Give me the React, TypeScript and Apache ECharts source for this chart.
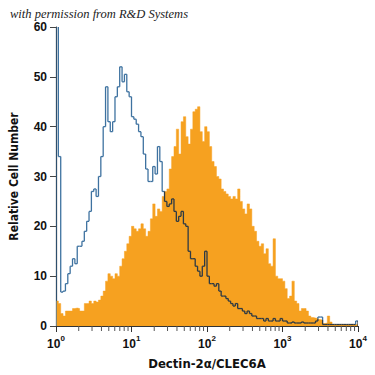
import React, { useEffect, useRef } from "react";
import * as echarts from "echarts";

// Histogram channels: 128 bins spanning 10^0 .. 10^4 (log10 units 0..4)
const DECADES = [0, 1, 2, 3, 4];
const BIN_COUNT = 128;

// Orange (filled) histogram – Dectin-2α/CLEC6A stained cells
const STAINED_COUNTS = [
  5, 4.5, 2.5, 2, 3, 3, 3, 3.5, 3.6, 3.5, 3, 3, 4.5, 4.5, 5, 4.5,
  5, 4.8, 5.2, 6, 7, 9, 10.5, 10, 9.5, 10.5, 10, 12, 13.5, 15, 16.5, 18,
  20, 19.5, 19, 19.5, 20.5, 19.5, 18, 19, 21.5, 24.5, 22, 23.5, 23, 26, 27, 27.5,
  31.5, 34, 36, 39.5, 34.5, 41, 42, 38, 36.5, 39.5, 43, 43.5, 44, 39, 37, 40,
  39, 36, 33, 32, 30, 29.5, 27.5, 27, 26.5, 26, 25.5, 26, 25.5, 27.5, 25, 23.5,
  22.5, 24.5, 23.5, 20, 19, 17, 16, 16.5, 14.5, 15.5, 12.5, 12, 17.5, 10, 9.5, 9.5,
  9, 7.5, 5.5, 6, 9, 5, 4.5, 3, 3.5, 3.5, 3, 2, 1.7, 1.6, 1.5, 1.3,
  1.2, 0.5, 0.6, 2, 0.8, 0.3, 0.3, 0.3, 0.3, 0.3, 0.3, 0.3, 0.3, 0.3, 0.3, 0.3,
];

// Blue (open) histogram – isotype control
const CONTROL_COUNTS = [
  62, 34, 6.8, 7, 8.5, 10.5, 12, 13.5, 12.5, 16, 16, 17, 19, 21, 23, 27,
  27.5, 26, 30, 34, 40, 48, 41, 39, 41, 46, 48, 52, 49, 50.5, 47, 46,
  42, 41.5, 40.5, 39, 38, 34.5, 31.5, 29, 29, 32, 30.5, 36, 33, 27, 25, 24,
  24.5, 25.5, 23, 21, 22, 23, 20.5, 20, 15, 13.5, 13.5, 12, 11, 10, 12, 15,
  10, 8.5, 8.5, 8, 8.5, 7, 6, 6, 5.5, 5, 4.5, 4, 4.5, 3.5, 3.5, 3,
  2.5, 3, 2.5, 2, 2, 1.5, 1.5, 1.5, 1, 1.5, 1, 1, 1.5, 1, 1, 1.5,
  1, 1, 0.6, 0.6, 0.8, 0.6, 0.6, 0.6, 0.8, 0.6, 0.6, 0.6, 0.6, 0.6, 1, 1.8,
  1.8, 0.3, 0.3, 0.3, 0.3, 0.3, 0.3, 0.3, 0.3, 0.3, 0.3, 0.3, 0.3, 0.3, 0.3, 1,
];

const Y_TICKS = [0, 10, 20, 30, 40, 50, 60];
const MINOR_MULTIPLIERS = [2, 3, 4, 5, 6, 7, 8, 9];

const ORANGE = "#F6A120";
const BLUE = "#3E72A0";
const DARK_LINE = "#2E3A44";
const AXIS_FONT = "'DejaVu Sans Condensed', 'Liberation Sans', Arial, sans-serif";
const TICK_FONT = "'Liberation Sans', Arial, sans-serif";

export default function App() {
  const ref = useRef<HTMLDivElement | null>(null);

  useEffect(() => {
    if (!ref.current) return;
    const chart = echarts.init(ref.current, null, { renderer: "svg" });
    const LOG_MAX = DECADES[DECADES.length - 1];
    const bw = (LOG_MAX - DECADES[0]) / BIN_COUNT;

    // step outline for the filled histogram: each bin start + closing edge
    const stainedSteps = STAINED_COUNTS.map((v, i) => [i * bw, v]);
    stainedSteps.push([BIN_COUNT * bw, STAINED_COUNTS[STAINED_COUNTS.length - 1]]);
    const controlData = CONTROL_COUNTS.map((v, i) => [i * bw, (i + 1) * bw, v, i]);

    const minorTicks: number[][] = [];
    DECADES.slice(0, -1).forEach((d) =>
      MINOR_MULTIPLIERS.forEach((m) => minorTicks.push([d + Math.log10(m), 0]))
    );

    const option: any = {
      animation: false,
      grid: { left: 56, right: 17, top: 27, bottom: 46, containLabel: false },
      xAxis: {
        type: "value",
        min: 0,
        max: LOG_MAX,
        interval: 1,
        name: "Dectin-2α/CLEC6A",
        nameLocation: "middle",
        nameGap: 31,
        nameTextStyle: {
          fontFamily: AXIS_FONT,
          fontWeight: "bold",
          fontSize: 13,
          color: "#111",
        },
        axisLine: { show: true, lineStyle: { color: "#333", width: 1 } },
        axisTick: { show: true, length: 6, lineStyle: { color: "#333" } },
        splitLine: { show: false },
        axisLabel: {
          margin: 8,
          formatter: (v: number) => `{b|10}{s|${v}}`,
          rich: {
            b: { fontFamily: TICK_FONT, fontWeight: "bold", fontSize: 12, color: "#111", lineHeight: 16, verticalAlign: "bottom" },
            s: { fontFamily: TICK_FONT, fontWeight: "bold", fontSize: 8, color: "#111", lineHeight: 16, verticalAlign: "top" },
          },
        },
      },
      yAxis: {
        type: "value",
        min: Y_TICKS[0],
        max: Y_TICKS[Y_TICKS.length - 1],
        interval: 10,
        name: "Relative Cell Number",
        nameLocation: "middle",
        nameGap: 36,
        nameTextStyle: {
          fontFamily: AXIS_FONT,
          fontWeight: "bold",
          fontSize: 12,
          color: "#111",
        },
        axisLine: { show: true, lineStyle: { color: "#111", width: 1.2 } },
        axisTick: { show: true, length: 6, lineStyle: { color: "#444" } },
        splitLine: { show: false },
        axisLabel: {
          margin: 9,
          fontFamily: TICK_FONT,
          fontWeight: "bold",
          fontSize: 12,
          color: "#111",
        },
      },
      series: [
        {
          type: "line",
          name: "stained",
          step: "end",
          data: stainedSteps,
          showSymbol: false,
          symbol: "none",
          lineStyle: { width: 0.5, color: ORANGE },
          areaStyle: { color: ORANGE, opacity: 1, origin: "start" },
          silent: true,
          z: 2,
        },
        {
          type: "custom",
          name: "control",
          clip: true,
          encode: { x: [0, 1], y: 2 },
          data: controlData,
          renderItem: (params: any, api: any) => {
            const x0 = api.value(0);
            const x1 = api.value(1);
            const v = api.value(2);
            const i = api.value(3);
            const o = STAINED_COUNTS[i];
            const a = api.coord([x0, v]);
            const b = api.coord([x1, v]);
            const children: any[] = [
              {
                type: "line",
                shape: { x1: a[0], y1: a[1], x2: b[0], y2: b[1] },
                style: { stroke: v <= o ? DARK_LINE : BLUE, lineWidth: 1.3 },
              },
            ];
            if (i < CONTROL_COUNTS.length - 1) {
              const vn = CONTROL_COUNTS[i + 1];
              const cover = Math.max(o, STAINED_COUNTS[i + 1]);
              const lo = Math.min(v, vn);
              const hi = Math.max(v, vn);
              const split = Math.min(Math.max(cover, lo), hi);
              if (split > lo) {
                const c0 = api.coord([x1, lo]);
                const c1 = api.coord([x1, split]);
                children.push({
                  type: "line",
                  shape: { x1: c0[0], y1: c0[1], x2: c1[0], y2: c1[1] },
                  style: { stroke: DARK_LINE, lineWidth: 1.3 },
                });
              }
              if (hi > split) {
                const c0 = api.coord([x1, split]);
                const c1 = api.coord([x1, hi]);
                children.push({
                  type: "line",
                  shape: { x1: c0[0], y1: c0[1], x2: c1[0], y2: c1[1] },
                  style: { stroke: BLUE, lineWidth: 1.3 },
                });
              }
            } else {
              const c0 = api.coord([x1, 0]);
              children.push({
                type: "line",
                shape: { x1: c0[0], y1: c0[1], x2: b[0], y2: b[1] },
                style: { stroke: DARK_LINE, lineWidth: 1.3 },
              });
            }
            if (i === 0) {
              const c0 = api.coord([x0, 0]);
              children.push({
                type: "line",
                shape: { x1: c0[0], y1: c0[1], x2: a[0], y2: a[1] },
                style: { stroke: BLUE, lineWidth: 1.3 },
              });
            }
            return { type: "group", children };
          },
          z: 3,
        },
        {
          type: "custom",
          name: "minorTicks",
          clip: false,
          silent: true,
          encode: { x: 0, y: 1 },
          data: minorTicks,
          renderItem: (params: any, api: any) => {
            const p = api.coord([api.value(0), 0]);
            return {
              type: "line",
              shape: { x1: p[0], y1: p[1], x2: p[0], y2: p[1] + 5 },
              style: { stroke: "#555", lineWidth: 1 },
            };
          },
          z: 1,
        },
      ],
      graphic: [
        {
          type: "text",
          left: 10,
          top: 7,
          style: {
            text: "with permission from R&D Systems",
            font: "italic 12.5px 'Liberation Serif', 'DejaVu Serif', serif",
            fill: "#222",
          },
        },
      ],
    };

    chart.setOption(option);
    return () => chart.dispose();
  }, []);

  return (
    <div
      ref={ref}
      style={{ position: "fixed", left: 0, top: 0, width: 375, height: 375, background: "#fff" }}
    />
  );
}
